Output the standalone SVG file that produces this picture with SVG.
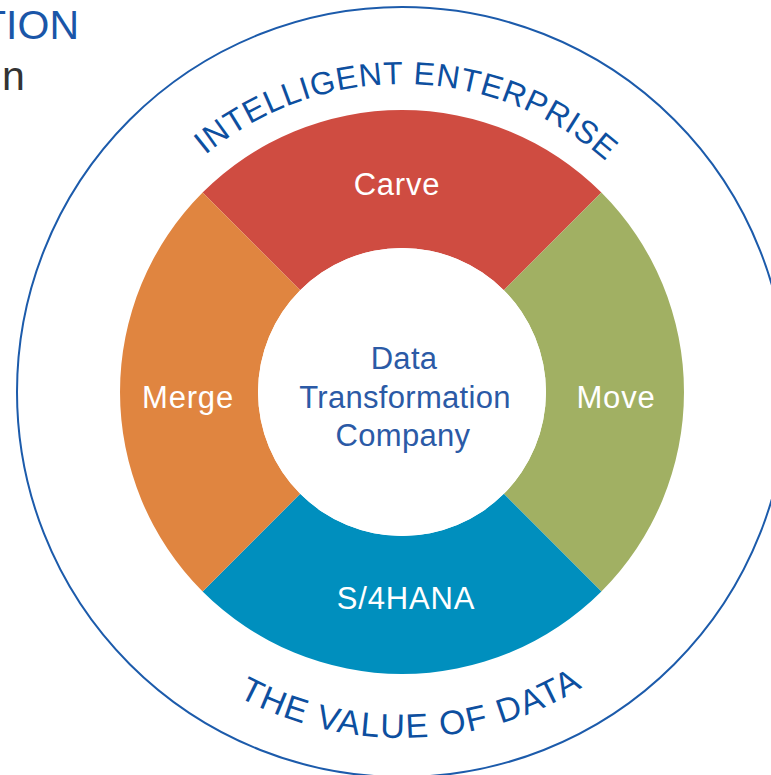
<svg xmlns="http://www.w3.org/2000/svg" width="771" height="775" viewBox="0 0 771 775">
  <defs>
    <style>
      .seg-label { font-family: "Liberation Sans", Arial, sans-serif; font-size: 31px; letter-spacing: 0.8px; fill: #ffffff; text-anchor: middle; }
      .center-label { font-family: "Liberation Sans", Arial, sans-serif; font-size: 31px; letter-spacing: 0.3px; fill: #2b5aa6; text-anchor: middle; }
      .arc-label { font-family: "Liberation Sans", Arial, sans-serif; fill: #0d4f9f; }
    </style>
    <path id="topArc" d="M 135.3 238 A 308 308 0 0 1 668.7 238"/>
    <path id="bottomArc" d="M 102.4 565 A 346 346 0 0 0 701.6 565"/>
  </defs>
  <rect width="771" height="775" fill="#ffffff"/>

  <g id="header">
    <text x="79" y="39" font-family="Liberation Sans, Arial, sans-serif" font-size="41" fill="#1a56a8" text-anchor="end">TION</text>
    <text x="2" y="90" font-family="Liberation Sans, Arial, sans-serif" font-size="41" fill="#333333">n</text>
  </g>

  <g id="outer-ring">
    <circle cx="402" cy="392" r="385" fill="none" stroke="#1c5bab" stroke-width="2"/>
  </g>

  <g id="arc-top">
    <text class="arc-label" font-size="32" letter-spacing="0.8"><textPath href="#topArc" startOffset="50.8%" text-anchor="middle">INTELLIGENT ENTERPRISE</textPath></text>
  </g>
  <g id="arc-bottom">
    <text class="arc-label" font-size="34" letter-spacing="1.4"><textPath href="#bottomArc" startOffset="51.4%" text-anchor="middle">THE VALUE OF DATA</textPath></text>
  </g>

  <g id="carve">
    <path d="M 202.6 192.6 A 282 282 0 0 1 601.4 192.6 L 503.8 290.2 A 144 144 0 0 0 300.2 290.2 Z" fill="#cf4c41"/>
    <text class="seg-label" x="397" y="195">Carve</text>
  </g>
  <g id="move">
    <path d="M 601.4 192.6 A 282 282 0 0 1 601.4 591.4 L 503.8 493.8 A 144 144 0 0 0 503.8 290.2 Z" fill="#a1b063"/>
    <text class="seg-label" x="616" y="408">Move</text>
  </g>
  <g id="s4hana">
    <path d="M 601.4 591.4 A 282 282 0 0 1 202.6 591.4 L 300.2 493.8 A 144 144 0 0 0 503.8 493.8 Z" fill="#008fbe"/>
    <text class="seg-label" x="406" y="609">S/4HANA</text>
  </g>
  <g id="merge">
    <path d="M 202.6 591.4 A 282 282 0 0 1 202.6 192.6 L 300.2 290.2 A 144 144 0 0 0 300.2 493.8 Z" fill="#e08540"/>
    <text class="seg-label" x="188" y="408">Merge</text>
  </g>

  <g id="center">
    <circle cx="402" cy="392" r="144" fill="#ffffff"/>
    <text class="center-label" x="404" y="369">Data</text>
    <text class="center-label" x="405" y="408">Transformation</text>
    <text class="center-label" x="403" y="446">Company</text>
  </g>
</svg>
